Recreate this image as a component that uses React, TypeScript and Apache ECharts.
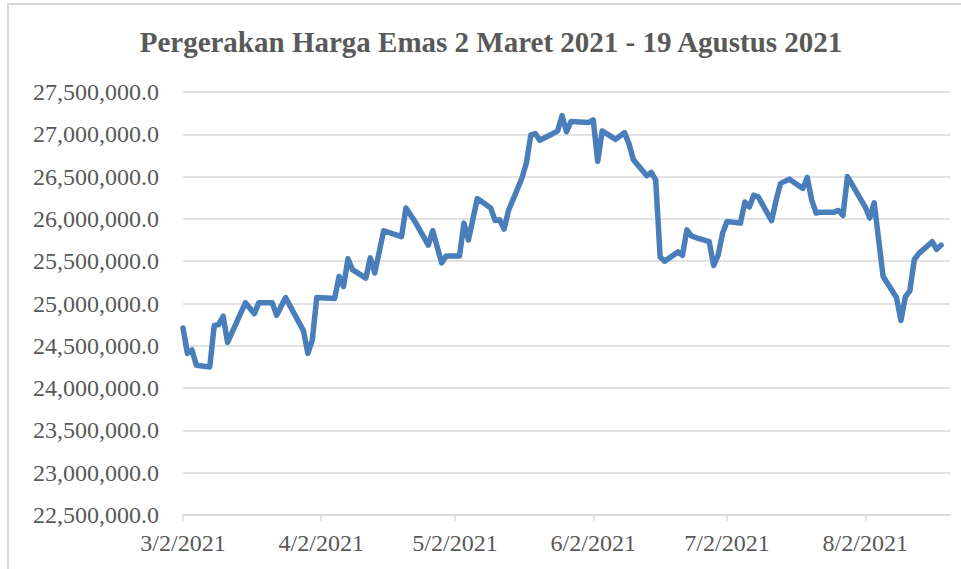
import React, { useEffect, useRef } from "react";
import * as echarts from "echarts";

const chartTitle = "Pergerakan Harga Emas 2 Maret 2021 - 19 Agustus 2021";

const dates = [
  "2021-03-02", "2021-03-03", "2021-03-04", "2021-03-05", "2021-03-08", "2021-03-09", "2021-03-10", "2021-03-11",
  "2021-03-12", "2021-03-16", "2021-03-18", "2021-03-19", "2021-03-22", "2021-03-23", "2021-03-25", "2021-03-29",
  "2021-03-30", "2021-03-31", "2021-04-01", "2021-04-05", "2021-04-06", "2021-04-07", "2021-04-08", "2021-04-09",
  "2021-04-12", "2021-04-13", "2021-04-14", "2021-04-16", "2021-04-20", "2021-04-21", "2021-04-23", "2021-04-26",
  "2021-04-27", "2021-04-29", "2021-04-30", "2021-05-03", "2021-05-04", "2021-05-05", "2021-05-07", "2021-05-10",
  "2021-05-11", "2021-05-12", "2021-05-13", "2021-05-14", "2021-05-17", "2021-05-18", "2021-05-19", "2021-05-20",
  "2021-05-21", "2021-05-24", "2021-05-25", "2021-05-26", "2021-05-27", "2021-05-28", "2021-06-01", "2021-06-02",
  "2021-06-03", "2021-06-04", "2021-06-07", "2021-06-09", "2021-06-10", "2021-06-11", "2021-06-14", "2021-06-15",
  "2021-06-16", "2021-06-17", "2021-06-18", "2021-06-21", "2021-06-22", "2021-06-23", "2021-06-24", "2021-06-25",
  "2021-06-28", "2021-06-29", "2021-06-30", "2021-07-01", "2021-07-02", "2021-07-05", "2021-07-06", "2021-07-07",
  "2021-07-08", "2021-07-09", "2021-07-12", "2021-07-13", "2021-07-14", "2021-07-16", "2021-07-19", "2021-07-20",
  "2021-07-21", "2021-07-22", "2021-07-23", "2021-07-26", "2021-07-27", "2021-07-28", "2021-07-29", "2021-07-30",
  "2021-08-02", "2021-08-03", "2021-08-04", "2021-08-06", "2021-08-09", "2021-08-10", "2021-08-11", "2021-08-12",
  "2021-08-13", "2021-08-14", "2021-08-17", "2021-08-18", "2021-08-19",
];

const prices = [
  24710000, 24410000, 24450000, 24270000, 24250000, 24740000, 24750000, 24850000,
  24540000, 25010000, 24880000, 25010000, 25010000, 24860000, 25070000, 24680000,
  24410000, 24570000, 25070000, 25060000, 25320000, 25200000, 25530000, 25400000,
  25300000, 25540000, 25360000, 25860000, 25790000, 26130000, 25970000, 25690000,
  25860000, 25480000, 25560000, 25560000, 25950000, 25750000, 26240000, 26130000,
  25980000, 25990000, 25880000, 26100000, 26480000, 26660000, 26990000, 27010000,
  26930000, 27010000, 27040000, 27220000, 27030000, 27150000, 27140000, 27170000,
  26680000, 27040000, 26940000, 27020000, 26890000, 26700000, 26510000, 26550000,
  26460000, 25550000, 25500000, 25610000, 25570000, 25870000, 25800000, 25780000,
  25730000, 25450000, 25570000, 25830000, 25970000, 25950000, 26200000, 26140000,
  26280000, 26260000, 25980000, 26220000, 26420000, 26470000, 26360000, 26490000,
  26220000, 26070000, 26080000, 26080000, 26100000, 26040000, 26500000, 26410000,
  26140000, 26010000, 26190000, 25320000, 25070000, 24800000, 25080000, 25150000,
  25520000, 25590000, 25730000, 25640000, 25690000,
];

const xTickDates = ["2021-03-02", "2021-04-02", "2021-05-02", "2021-06-02", "2021-07-02", "2021-08-02"];
const xStart = "2021-03-02";
const xEnd = "2021-08-21";
const yMin = 22500000;
const yMax = 27500000;
const yStep = 500000;

function toTs(s: string): number {
  const [y, m, d] = s.split("-").map(Number);
  return new Date(y, m - 1, d).getTime();
}

export default function App() {
  const ref = useRef<HTMLDivElement>(null);
  useEffect(() => {
    if (!ref.current) return;
    const chart = echarts.init(ref.current, null, { renderer: "svg" });
    const ticks = xTickDates.map(toTs);
    const font = "'Liberation Serif', 'Times New Roman', serif";
    chart.setOption({
      animation: false,
      backgroundColor: "#ffffff",
      grid: { left: 183, right: 11, top: 92, bottom: 54, containLabel: false },
      graphic: [
        {
          type: "rect",
          shape: { x: 8, y: 4, width: 1000, height: 700 },
          style: { fill: "none", stroke: "#d9d9d9", lineWidth: 2 },
          silent: true,
        },
        {
          type: "text",
          x: 491,
          y: 27,
          style: {
            text: chartTitle,
            fill: "#595959",
            font: `bold 29px ${font}`,
            textAlign: "center",
            textVerticalAlign: "top",
          },
        },
      ],
      xAxis: {
        type: "value",
        min: toTs(xStart),
        max: toTs(xEnd),
        axisLine: { show: true, lineStyle: { color: "#d9d9d9", width: 1.5 } },
        axisTick: { show: true, customValues: ticks, length: 6, lineStyle: { color: "#d9d9d9", width: 1.5 } },
        axisLabel: {
          customValues: ticks,
          color: "#595959",
          fontSize: 24,
          fontFamily: font,
          margin: 16,
          formatter: (v: number) => {
            const d = new Date(v);
            return `${d.getMonth() + 1}/${d.getDate()}/${d.getFullYear()}`;
          },
        },
        splitLine: { show: false },
      },
      yAxis: {
        type: "value",
        min: yMin,
        max: yMax,
        interval: yStep,
        axisLine: { show: false },
        axisTick: { show: false },
        axisLabel: {
          color: "#595959",
          fontSize: 24,
          fontFamily: font,
          margin: 24,
          formatter: (v: number) =>
            v.toLocaleString("en-US", { minimumFractionDigits: 1, maximumFractionDigits: 1 }),
        },
        splitLine: { show: true, lineStyle: { color: "#d9d9d9", width: 1.5 } },
      },
      series: [
        {
          type: "line",
          data: dates.map((d, i) => [toTs(d), prices[i]]),
          showSymbol: false,
          symbol: "none",
          lineStyle: { color: "#4a7ebb", width: 5.5, join: "round", cap: "round" },
        },
      ],
    });
    return () => chart.dispose();
  }, []);
  return (
    <div
      ref={ref}
      style={{ position: "fixed", left: 0, top: 0, width: 961, height: 569, background: "#fff" }}
    />
  );
}
